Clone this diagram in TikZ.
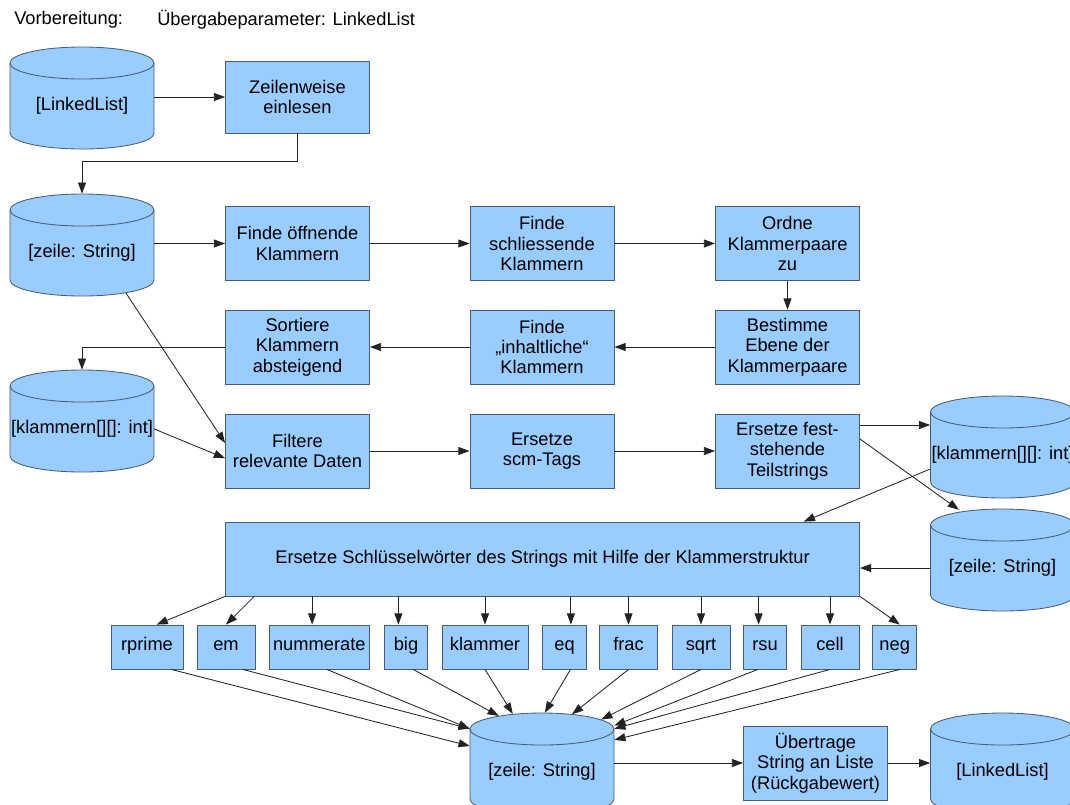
\documentclass[tikz,border=0pt]{standalone}
\usepackage{fontspec}
\setmainfont{Liberation Sans}
\usetikzlibrary{arrows.meta}
\definecolor{hellblau}{RGB}{153,204,255}
\definecolor{rand}{RGB}{72,92,118}
\definecolor{linie}{RGB}{35,35,35}
\newcommand{\tonne}[4]{%
\filldraw[tonnenrand] ({#2-72},{#3+43}) -- ({#2-72},{#3-27}) arc[start angle=180,end angle=360,x radius=1.8cm,y radius=0.4cm] -- ({#2+72},{#3+43}) arc[start angle=0,end angle=180,x radius=1.8cm,y radius=0.4cm] -- cycle;
\draw[tonnenrand] ({#2-72},{#3+43}) arc[start angle=180,end angle=360,x radius=1.8cm,y radius=0.4cm];
\node[tonne] (#1) at (#2,#3) {#4};}

\begin{document}
\begin{tikzpicture}[x=0.025cm,y=0.025cm,
  font=\fontsize{13}{14.5}\selectfont,
  schritt/.style={draw=rand,fill=hellblau,line width=0.6pt,align=center,inner sep=1pt,minimum width=3.6cm,minimum height=1.85cm},
  wort/.style={draw=rand,fill=hellblau,line width=0.6pt,inner sep=1pt,minimum height=1.1cm,text height=0.72em,text depth=0.21em},
  tonne/.style={inner sep=0pt,minimum width=3.6cm,minimum height=2.15cm},
  tonnenrand/.style={draw=rand,fill=hellblau,line width=0.6pt},
  pfeil/.style={draw=linie,line width=0.6pt,-{Triangle[length=0.28cm,width=0.2cm]}}]
\useasboundingbox (0,0) rectangle (1070,-804);
\node[anchor=west,inner sep=0pt] (vorb) at (14,-20) {Vorbereitung:};
\node[anchor=west,inner sep=0pt] (param) at (157,-20) {Übergabeparameter: LinkedList};

\tonne{liste}{82}{-106}{[LinkedList]}
\tonne{zeile}{82}{-253}{[zeile: String]}
\tonne{klammern}{82}{-429}{[klammern[][]: int]}
\tonne{klammernB}{1002.5}{-455}{[klammern[][]: int]}
\tonne{zeileB}{1002.5}{-568}{[zeile: String]}
\tonne{zeileC}{542}{-772}{[zeile: String]}
\tonne{listeB}{1002.5}{-772}{[LinkedList]}

\node[schritt,minimum height=1.8cm] (einlesen) at (297.5,-97) {Zeilenweise\\einlesen};
\node[schritt] (oeffnend) at (297.5,-243.5) {Finde öffnende\\Klammern};
\node[schritt] (schliessend) at (542,-243.5) {Finde\\schliessende\\Klammern};
\node[schritt] (ordne) at (787.5,-243.5) {Ordne\\Klammerpaare\\zu};
\node[schritt] (ebene) at (787.5,-347) {Bestimme\\Ebene der\\Klammerpaare};
\node[schritt] (inhalt) at (542,-347) {Finde\\„inhaltliche“\\Klammern};
\node[schritt] (sortiere) at (297.5,-347) {Sortiere\\Klammern\\absteigend};
\node[schritt] (filtere) at (297.5,-451) {Filtere\\relevante Daten};
\node[schritt] (scm) at (542,-451) {Ersetze\\scm-Tags};
\node[schritt] (fest) at (787.5,-451) {Ersetze fest-\\stehende\\Teilstrings};
\node[schritt,minimum width=15.85cm] (ersetze) at (542.5,-559) {Ersetze Schlüsselwörter des Strings mit Hilfe der Klammerstruktur};
\foreach \n/\x/\w in {rprime/147/1.8,em/226/1.45,nummerate/319.3/2.51,big/406/1.09,klammer/485/2.15,eq/564.5/1.09,frac/628.5/1.45,sqrt/701/1.45,rsu/765/1.09,cell/830/1.45,neg/894.7/1.09}
  \node[wort,minimum width=\w cm] (\n) at (\x,-647) {\n};
\node[schritt] (uebertrage) at (815.5,-763) {Übertrage\\String an Liste\\(Rückgabewert)};

\draw[pfeil] (liste.east |- einlesen.west) -- (einlesen.west);
\draw[pfeil] (einlesen.south) -- ++(0,-28) -| ([yshift=0.4cm]zeile.north);
\draw[pfeil] (zeile.east |- oeffnend.west) -- (oeffnend.west);
\draw[pfeil] (oeffnend) -- (schliessend);
\draw[pfeil] (schliessend) -- (ordne);
\draw[pfeil] (ordne) -- (ebene);
\draw[pfeil] (ebene) -- (inhalt);
\draw[pfeil] (inhalt) -- (sortiere);
\draw[pfeil] (sortiere.west) -| ([yshift=0.4cm]klammern.north);
\draw[pfeil] ([xshift=1.1cm,yshift=0.08cm]zeile.south) -- ([yshift=0.2cm]filtere.west);
\draw[pfeil] (klammern.east) -- ([yshift=-0.18cm]filtere.west);
\draw[pfeil] (filtere) -- (scm);
\draw[pfeil] (scm) -- (fest);
\draw[pfeil] ([yshift=0.65cm]fest.east) -- ([yshift=0.65cm]fest.east -| klammernB.west);
\draw[pfeil] ([yshift=0.3cm]fest.east) -- ([xshift=-1.09cm,yshift=0.375cm]zeileB.north);
\draw[pfeil] ([yshift=-0.35cm]klammernB.west) -- ([xshift=6.53cm]ersetze.north);
\draw[pfeil] (zeileB.west) -- (ersetze.east |- zeileB.west);

\draw[pfeil] (ersetze.south west) -- ([xshift=0.24cm]rprime.north);
\draw[pfeil] ([xshift=0.73cm]ersetze.south west) -- (em.north);
\foreach \n/\s in {nummerate/-0.18,big/-0.19,klammer/0,eq/0.16,frac/0,sqrt/0,rsu/-0.16,cell/0}
  \draw[pfeil] ([xshift=\s cm]\n.north |- ersetze.south) -- ([xshift=\s cm]\n.north);
\draw[pfeil] (ersetze.south east) -- ([xshift=0.13cm]neg.north);

\draw[pfeil] ([xshift=0.61cm]rprime.south) -- ([yshift=0.65cm]zeileC.west);
\draw[pfeil] ([xshift=0.42cm]em.south) -- (zeileC.north west);
\draw[pfeil] ([xshift=0.19cm]nummerate.south) -- (zeileC.north west);
\draw[pfeil] ([xshift=0.18cm]big.south) -- ([xshift=-1.08cm,yshift=0.32cm]zeileC.north);
\draw[pfeil] (klammer.south) -- ([xshift=-0.73cm,yshift=0.37cm]zeileC.north);
\draw[pfeil] ([xshift=0.15cm]eq.south) -- ([xshift=0.07cm,yshift=0.4cm]zeileC.north);
\draw[pfeil] (frac.south) -- ([xshift=0.75cm,yshift=0.36cm]zeileC.north);
\draw[pfeil] (sqrt.south) -- ([xshift=1.48cm,yshift=0.23cm]zeileC.north);
\draw[pfeil] ([xshift=-0.18cm]rsu.south) -- ([yshift=0.08cm]zeileC.north east);
\draw[pfeil] (cell.south) -- (zeileC.north east);
\draw[pfeil] ([xshift=0.13cm]neg.south) -- ([yshift=-0.28cm]zeileC.north east);

\draw[pfeil] (zeileC.east |- uebertrage.west) -- (uebertrage.west);
\draw[pfeil] (uebertrage.east) -- (listeB.west |- uebertrage.east);
\end{tikzpicture}
\end{document}
